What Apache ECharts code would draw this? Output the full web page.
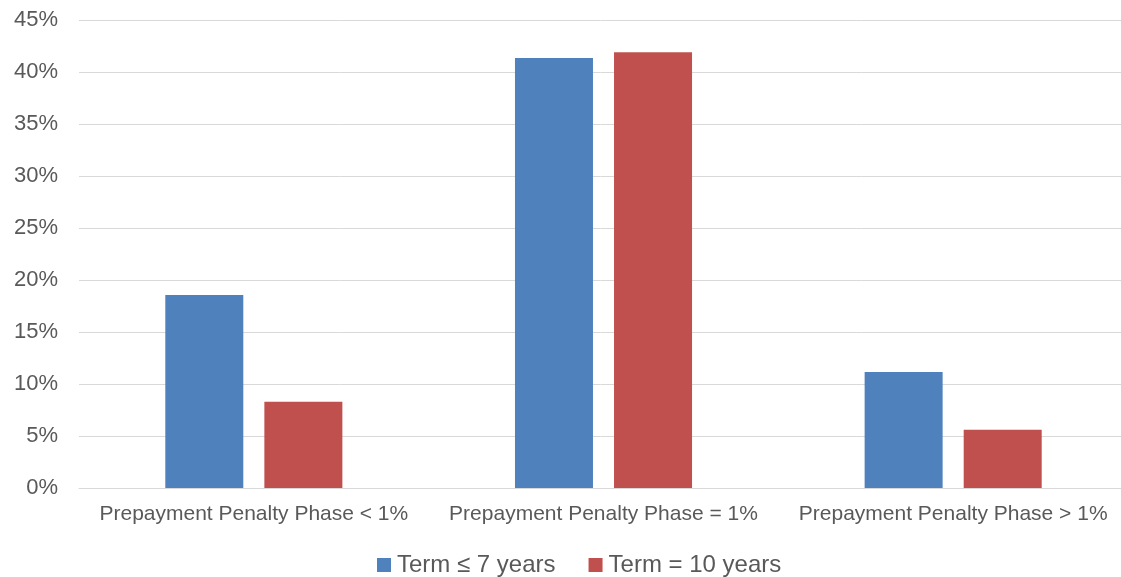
<!DOCTYPE html>
<html>
<head>
<meta charset="utf-8">
<script src="https://cdn.jsdelivr.net/npm/echarts@6/dist/echarts.min.js"></script>
<style>
html,body{margin:0;padding:0;background:#fff;}
#c{width:1121px;height:577px;}
</style>
</head>
<body>
<div id="c"></div>
<script>
const categories = ['Prepayment Penalty Phase < 1%', 'Prepayment Penalty Phase = 1%', 'Prepayment Penalty Phase > 1%'];
const seriesNames = ['Term \u2264 7 years', 'Term = 10 years'];
const term7 = [18.55, 41.35, 11.15];
const term10 = [8.3, 41.9, 5.6];
const yTicks = [0, 5, 10, 15, 20, 25, 30, 35, 40, 45];

const font = '"Liberation Sans", Arial, sans-serif';
const chart = echarts.init(document.getElementById('c'), null, {renderer: 'canvas'});
chart.setOption({
  animation: false,
  textStyle: {fontFamily: font},
  grid: {left: 79, width: 1049, top: 20, bottom: 89, containLabel: false, outerBoundsMode: 'none'},
  legend: {
    data: seriesNames,
    left: 377,
    top: 553,
    padding: 0,
    itemWidth: 14,
    itemHeight: 14,
    itemGap: 33,
    icon: 'rect',
    textStyle: {color: '#595959', fontSize: 24, fontFamily: font, padding: [0, 0, 0, 1]}
  },
  xAxis: {
    type: 'category',
    data: categories,
    axisLine: {lineStyle: {color: '#d9d9d9', width: 1}},
    axisTick: {show: false},
    axisLabel: {color: '#595959', fontSize: 21, fontFamily: font, margin: 16, interval: 0}
  },
  yAxis: {
    type: 'value',
    min: yTicks[0],
    max: yTicks[yTicks.length - 1],
    interval: 5,
    axisLine: {show: false},
    axisTick: {show: false},
    splitLine: {lineStyle: {color: '#d9d9d9', width: 1}},
    axisLabel: {color: '#595959', fontSize: 22, fontFamily: font, margin: 21, formatter: v => v + '%'}
  },
  series: [
    {name: seriesNames[0], type: 'bar', data: term7, barWidth: 78, barGap: '27%', itemStyle: {color: '#4F81BD'}},
    {name: seriesNames[1], type: 'bar', data: term10, barWidth: 78, itemStyle: {color: '#C0504D'}}
  ]
});
</script>
</body>
</html>
